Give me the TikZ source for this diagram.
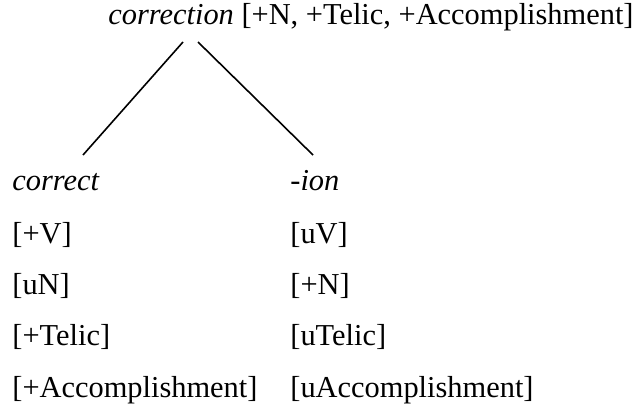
\documentclass[tikz,border=0pt]{standalone}
\usepackage{fontspec}
\setmainfont{Liberation Serif}

\begin{document}
\begin{tikzpicture}[x=0.5pt,y=-0.5pt,
    feat/.style={anchor=base west,inner sep=0pt,font=\fontsize{15.2}{18}\selectfont}]
            \useasboundingbox (0,0) rectangle (641,412);
            \node[feat] (root) at (108,25) {\textit{correction} [+N, +Telic, +Accomplishment]};
            \node[feat] (correct) at (12,190) {\textit{correct}};
            \node[feat] (ion) at (290,190) {\textit{-ion}};
            \node[feat] (lV) at (12,243) {[+V]};
            \node[feat] (rV) at (290,243) {[uV]};
            \node[feat] (lN) at (12,294) {[uN]};
            \node[feat] (rN) at (290,294) {[+N]};
            \node[feat] (lT) at (12,345) {[+Telic]};
            \node[feat] (rT) at (290,345) {[uTelic]};
            \node[feat] (lA) at (12,397) {[+Accomplishment]};
            \node[feat] (rA) at (290,397) {[uAccomplishment]};
            \coordinate (rootL) at (183,42);
            \coordinate (rootR) at (198,42);
            \coordinate (correctTop) at (83,155);
            \coordinate (ionTop) at (313,155);
            \draw[line width=0.8pt] (rootL) -- (correctTop);
            \draw[line width=0.8pt] (rootR) -- (ionTop);
        \end{tikzpicture}
\end{document}
